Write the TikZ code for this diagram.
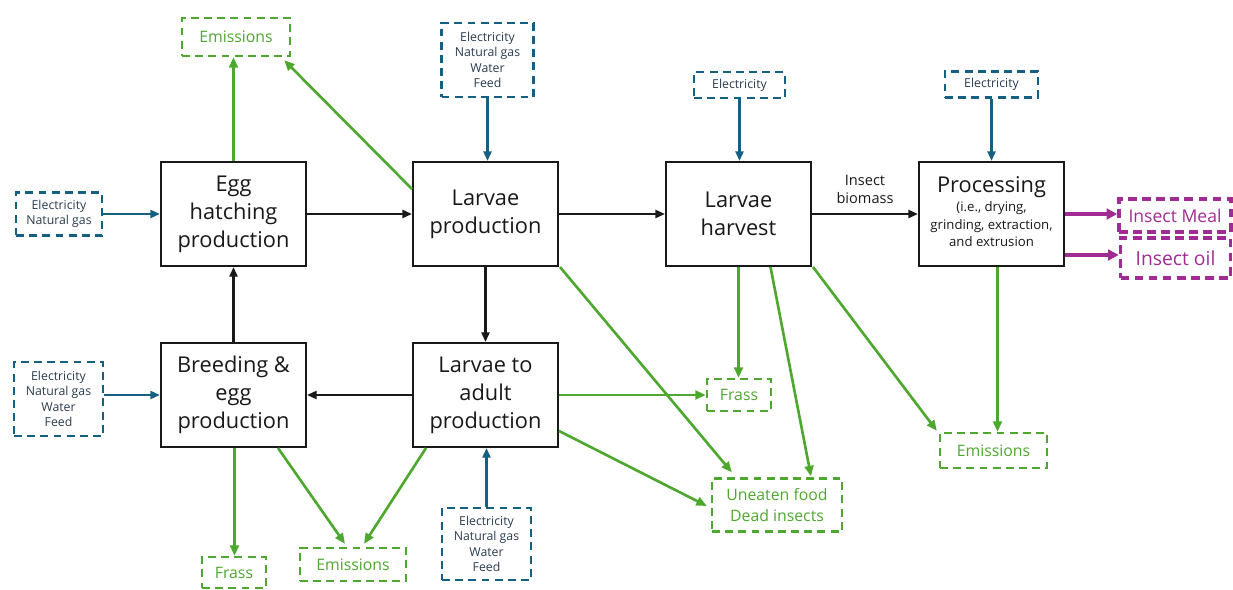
\documentclass[tikz,border=0pt]{standalone}
\usepackage{fontspec}
\setmainfont{Open Sans}
\usetikzlibrary{arrows.meta,calc}
\definecolor{eblue}{HTML}{156082}
\definecolor{etext}{HTML}{2A3B50}
\definecolor{egreen}{HTML}{4EA72E}
\definecolor{epurple}{HTML}{A02B93}
\begin{document}
\begin{tikzpicture}[x=0.02cm,y=-0.02cm,
  mainbox/.style={draw=black!90, line width=1.1pt, fill=white, align=center, inner sep=0pt,
    minimum width=2.9cm, minimum height=2.08cm, font=\fontsize{12.4}{15.9}\selectfont, text=black!90},
  inbox/.style={draw=eblue, dash pattern=on 4.5pt off 3pt, line width=1.5pt, align=center, inner sep=0pt,
    text=etext, font=\fontsize{7}{8.8}\selectfont},
  outbox/.style={draw=egreen, dash pattern=on 4.5pt off 3pt, line width=1.3pt, align=center, inner sep=0pt,
    text=egreen, font=\fontsize{9}{11.7}\selectfont},
  prodbox/.style={draw=epurple, dash pattern=on 5pt off 3pt, line width=2pt, align=center, inner sep=0pt,
    text=epurple},
  barrow/.style={draw=black!90, line width=1.5pt, -{Triangle[length=5.5pt,width=4.5pt]}},
  bluearrow/.style={draw=eblue, line width=1.5pt, -{Triangle[length=5.5pt,width=4.5pt]}},
  garrow/.style={draw=egreen, line width=1.5pt, -{Triangle[length=6pt,width=5pt]}},
  parrow/.style={draw=epurple, line width=2.2pt, -{Triangle[length=6pt,width=6pt]}}
]
\useasboundingbox (0,0) rectangle (1233,590);

% main process boxes
\node[mainbox] (egg) at (233.5,214) {Egg\\hatching\\production};
\node[mainbox] (lp) at (485.5,214) {Larvae\\production};
\node[mainbox] (lh) at (738.5,214) {Larvae\\harvest};
\node[mainbox] (proc) at (991.5,214) {Processing\\[-5pt]{\fontsize{7.5}{9.7}\selectfont\begin{tabular}[t]{@{}c@{}}(i.e., drying,\\grinding, extraction,\\and extrusion\end{tabular}}};
\node[mainbox] (bre) at (233.5,395) {Breeding \&\\egg\\production};
\node[mainbox] (la) at (485.5,395) {Larvae to\\adult\\production};

% input boxes
\node[inbox, minimum width=1.72cm, minimum height=0.86cm] (in1) at (59,214) {Electricity\\Natural gas};
\node[inbox, minimum width=1.78cm, minimum height=1.48cm] (in2) at (58.5,399) {Electricity\\Natural gas\\Water\\Feed};
\node[inbox, minimum width=1.84cm, minimum height=1.48cm] (in3) at (487.5,60) {Electricity\\Natural gas\\Water\\Feed};
\node[inbox, minimum width=1.82cm, minimum height=0.52cm] (in4) at (739.5,85) {Electricity};
\node[inbox, minimum width=1.86cm, minimum height=0.52cm] (in5) at (991.5,84.5) {Electricity};
\node[inbox, minimum width=1.78cm, minimum height=1.44cm] (in6) at (486.5,544) {Electricity\\Natural gas\\Water\\Feed};

% output boxes
\node[outbox, minimum width=2.16cm, minimum height=0.76cm] (em1) at (236,37) {Emissions};
\node[outbox, minimum width=1.28cm, minimum height=0.62cm] (fr1) at (234,572.5) {Frass};
\node[outbox, minimum width=2.12cm, minimum height=0.66cm] (em2) at (353,564.5) {Emissions};
\node[outbox, minimum width=1.28cm, minimum height=0.64cm] (fr2) at (739,395) {Frass};
\node[outbox, minimum width=2.6cm, minimum height=1.06cm] (uf) at (777,505) {Uneaten food\\Dead insects};
\node[outbox, minimum width=2.14cm, minimum height=0.7cm] (em3) at (993.5,450.5) {Emissions};
\node[prodbox, minimum width=2.24cm, minimum height=0.66cm, font=\fontsize{10}{12}\selectfont] (meal) at (1175,215.5) {Insect Meal};
\node[prodbox, minimum width=2.2cm, minimum height=0.8cm, font=\fontsize{11}{13}\selectfont] (oil) at (1175.5,258) {Insect oil};

% black flows
\draw[barrow] (egg.east) -- (lp.west);
\draw[barrow] (lp.east) -- (lh.west);
\draw[barrow] (lh.east) -- node[midway, above=5pt, inner sep=0pt, align=center, font=\fontsize{8.3}{10.4}\selectfont, text=black!90] (bio) {Insect\\biomass} (proc.west);
\draw[barrow] (lp.south) -- (la.north);
\draw[barrow] (la.west) -- (bre.east);
\draw[barrow] (bre.north) -- (egg.south);

% blue inputs
\draw[bluearrow] (in1.east) -- (egg.west);
\draw[bluearrow] (in2.east |- bre.west) -- (bre.west);
\draw[bluearrow] (in3.south) -- (in3.south |- lp.north);
\draw[bluearrow] (in4.south) -- (in4.south |- lh.north);
\draw[bluearrow] (in5.south) -- (proc.north);
\draw[bluearrow] (in6.north) -- (in6.north |- la.south);

% green outputs
\draw[garrow] (egg.north) -- (egg.north |- em1.south);
\draw[garrow] ($(lp.north west)+(0,28)$) -- ($(em1.south east)+(-7,3)$);
\draw[garrow] ($(lp.south east)+(1,0)$) -- ($(uf.north west)+(21,-5)$);
\draw[garrow] (lh.south) -- (lh.south |- fr2.north);
\draw[garrow] ($(lh.south)+(32,0)$) -- ($(uf.north)+(34,-1)$);
\draw[garrow] ($(lh.south east)+(1,0)$) -- ($(em3.north west)+(-2,-1)$);
\coordinate (p7) at ($(proc.south)+(6,0)$);
\draw[garrow] (p7) -- (p7 |- em3.north);
\draw[garrow] (la.east) -- (fr2.west);
\draw[garrow] ($(la.south east)+(0,-17)$) -- ($(uf.west)+(-4,1)$);
\coordinate (p9) at ($(bre.south)+(1,0)$);
\draw[garrow] (p9) -- (p9 |- fr1.north);
\draw[garrow] ($(bre.south east)+(-29,0)$) -- ($(em2.north)+(-8,-3)$);
\draw[garrow] ($(la.south west)+(14,0)$) -- ($(em2.north)+(11,-3)$);

% purple products
\draw[parrow] (proc.east) -- (proc.east -| meal.west);
\coordinate (p8) at ($(proc.east)+(0,41)$);
\draw[parrow] (p8) -- (p8 -| oil.west);
\end{tikzpicture}
\end{document}
